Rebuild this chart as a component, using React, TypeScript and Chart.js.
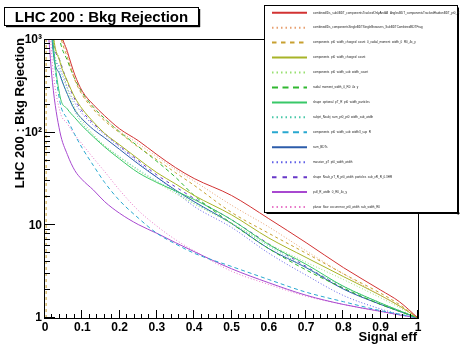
import React, { useEffect, useRef } from "react";
import { Chart, registerables } from "chart.js";

Chart.register(...registerables);

// ---------- data ----------
const effGrid = [0.005, 0.02, 0.04, 0.06, 0.08, 0.1, 0.13, 0.16, 0.2, 0.25, 0.3, 0.35, 0.4, 0.5, 0.6, 0.7, 0.8, 0.9, 0.95, 1.0];

const rejCombinedSub0 = [100000, 8000, 1400, 750, 420, 280, 200, 152, 110, 82, 58, 42, 32, 21, 11.8, 6.5, 3.5, 2.0, 1.5, 1];
const rejCombinedSingle = [100000, 6000, 1300, 700, 380, 260, 185, 140, 104, 76, 55, 40, 30, 16.5, 9.6, 5.3, 3.0, 1.75, 1.35, 1];
const rejCompChargedRadial = [100000, 5000, 1200, 650, 370, 255, 178, 134, 100, 70, 51, 37, 27, 13.8, 8.2, 5.0, 3.0, 1.85, 1.4, 1];
const rejCompCharged = [30000, 1500, 580, 360, 240, 180, 130, 98, 74, 52, 37, 28, 21, 13, 7.3, 4.5, 2.8, 1.75, 1.35, 1];
const rejCompSubWidth = [30000, 1300, 620, 300, 185, 135, 95, 72, 54, 39, 29, 22, 17, 10.5, 6.3, 4.0, 2.6, 1.65, 1.3, 1];
const rejRadialMoment = [100000, 4000, 1000, 600, 380, 270, 188, 142, 102, 71, 49, 33, 21, 10.5, 5.6, 3.3, 2.1, 1.4, 1.18, 1];
const rejShapeOptional = [20000, 1200, 250, 180, 145, 118, 90, 70, 52, 37, 29, 23.5, 19, 11.5, 6.2, 3.8, 2.2, 1.45, 1.2, 1];
const rejSubjetNsubj = [20000, 1100, 450, 260, 170, 125, 92, 72, 55, 40, 30, 23, 17.5, 10.5, 6.0, 3.5, 2.2, 1.45, 1.2, 1];
const rejCompSupR = [10000, 1000, 215, 140, 95, 68, 44, 29, 18.5, 12, 8.2, 6.3, 5.0, 3.6, 2.6, 1.9, 1.5, 1.2, 1.1, 1];
const rejSumBDT = [20000, 900, 420, 260, 175, 140, 108, 88, 66, 46, 33, 24, 18, 10.5, 5.6, 3.5, 2.05, 1.4, 1.18, 1];
const rejMassive = [20000, 1000, 500, 300, 210, 160, 120, 95, 70, 48, 33, 23, 16, 9.5, 5.0, 2.9, 1.75, 1.25, 1.1, 1];
const rejShapeNsub = [20000, 1200, 600, 350, 230, 170, 125, 98, 72, 50, 35, 26, 19.5, 11.5, 6.3, 3.6, 2.1, 1.4, 1.2, 1];
const rejPull = [2000, 350, 102, 58, 39, 31, 24, 18, 13.5, 10.2, 8.2, 6.5, 5.2, 3.4, 2.4, 1.76, 1.4, 1.18, 1.08, 1];
const rejPlanarFlow = [5000, 550, 170, 125, 95, 75, 53, 38, 24, 14.5, 9.8, 7.0, 5.3, 3.2, 2.3, 1.72, 1.4, 1.17, 1.08, 1];

// vertical edge of the third curve at very low efficiency
const edgeEff = [0.003, 0.003];
const edgeRej = [1, 1000];

const seriesNames = [
  "combinedIDs_sub0BDT_componentsTrackedOnlyAndAll_AnglesBDT_componentsTrackedHadronBDT_pt0_R_BDTSub",
  "combinedIDs_componentsSingleBDTSingleBrowsers_SubBDTCombinedBDTFrag",
  "components_pt0_width_charged_count_0_radial_moment_width_0_R0_4x_y",
  "components_pt0_width_charged_count",
  "components_pt0_width_sub_width_count",
  "radial_moment_width_0_R0_4x_y",
  "shape_optional_pT_R_pt0_width_particles",
  "subjet_Nsubj_sum_pt0_pt0_width_sub_width",
  "components_pt0_width_sub_width3_sup_R",
  "sum_BDTs",
  "massive_pT_pt0_width_width",
  "shape_Nsub_pT_R_pt0_width_particles_sub_xR_R_0.3HR",
  "pull_R_width_0_R0_4x_y",
  "planar_flow_occurrence_pt0_width_sub_width_R0",
];

const seriesRej = [
  rejCombinedSub0, rejCombinedSingle, rejCompChargedRadial, rejCompCharged, rejCompSubWidth,
  rejRadialMoment, rejShapeOptional, rejSubjetNsubj, rejCompSupR, rejSumBDT,
  rejMassive, rejShapeNsub, rejPull, rejPlanarFlow,
];

const xTickValues = [0, 0.1, 0.2, 0.3, 0.4, 0.5, 0.6, 0.7, 0.8, 0.9, 1];
const xTickLabels = ["0", "0.1", "0.2", "0.3", "0.4", "0.5", "0.6", "0.7", "0.8", "0.9", "1"];
const yTickValues = [1, 10, 100, 1000];
const yTickLabels = ["1", "10", "10\u00B2", "10\u00B3"];

const chartTitle = "LHC 200 : Bkg Rejection";
const xTitle = "Signal eff";
const yTitle = "LHC 200 : Bkg Rejection";

// ---------- styles ----------
const seriesColors = [
  "#d23232", "#e8a070", "#c8a030", "#a8b428", "#98e070", "#30b830", "#38c868",
  "#48c8a8", "#28a8d0", "#2c5caa", "#6060e8", "#6838c8", "#a848d0", "#e878c8",
];
const DOT = [1, 2];
const seriesDashes: number[][] = [
  [], DOT, [3, 3], [], DOT, [4, 3], [], DOT, [4, 3], [], DOT, [3, 4], [], DOT,
];

const FONT = '"Liberation Sans", Arial, Helvetica, sans-serif';

const rootDecor = {
  id: "rootDecor",
  afterDraw(chart: any) {
    const { ctx, chartArea: a } = chart;
    const xs = chart.scales.x;
    const ys = chart.scales.y;
    ctx.save();
    ctx.strokeStyle = "#000";
    ctx.fillStyle = "#000";
    ctx.lineWidth = 1;
    ctx.setLineDash([]);
    // frame
    ctx.strokeRect(a.left - 0.5, a.top - 0.5, a.right - a.left + 1, a.bottom - a.top + 1);
    // x ticks (inside)
    ctx.beginPath();
    for (let k = 0; k <= 50; k++) {
      const v = k / 50;
      const px = Math.round(xs.getPixelForValue(v)) - 0.5;
      const len = k % 5 === 0 ? 8 : 4;
      ctx.moveTo(px, a.bottom);
      ctx.lineTo(px, a.bottom - len);
    }
    // y ticks (inside)
    for (let d = 1; d <= 1000; d *= 10) {
      for (let m = 1; m <= 9; m++) {
        const v = d * m;
        if (v > 1000) break;
        const py = Math.round(ys.getPixelForValue(v)) - 0.5;
        const len = m === 1 ? 10 : 5;
        ctx.moveTo(a.left, py);
        ctx.lineTo(a.left + len, py);
      }
    }
    ctx.stroke();

    // axis titles
    ctx.font = `bold 13px ${FONT}`;
    ctx.textAlign = "right";
    ctx.textBaseline = "alphabetic";
    ctx.fillText(xTitle, a.right - 1, 341);
    ctx.save();
    ctx.translate(24, a.top - 2);
    ctx.rotate(-Math.PI / 2);
    ctx.fillText(yTitle, 0, 0);
    ctx.restore();

    // title box
    ctx.fillStyle = "#fff";
    ctx.fillRect(4.5, 7.5, 194, 18);
    ctx.fillStyle = "#000";
    ctx.strokeRect(4.5, 7.5, 194, 18);
    ctx.fillRect(6, 26, 194, 1.2);
    ctx.fillRect(199, 9, 1.2, 18);
    ctx.font = `bold 15px ${FONT}`;
    ctx.textAlign = "center";
    ctx.fillText(chartTitle, 101.5, 21.5);

    // legend box
    const lx = 264.5, ly = 5.5, lw = 193, lh = 207;
    ctx.fillStyle = "#fff";
    ctx.fillRect(lx, ly, lw, lh);
    ctx.fillStyle = "#000";
    ctx.strokeRect(lx, ly, lw, lh);
    ctx.fillRect(lx + 2, ly + lh, lw, 1.5);
    ctx.fillRect(lx + lw, ly + 2, 1.5, lh);
    ctx.font = `3px ${FONT}`;
    ctx.textAlign = "left";
    ctx.textBaseline = "middle";
    for (let i = 0; i < seriesNames.length; i++) {
      const yy = 12.7 + i * 14.95;
      ctx.strokeStyle = seriesColors[i];
      ctx.lineWidth = 2;
      ctx.setLineDash(seriesDashes[i].map((d) => d * 1.5));
      ctx.beginPath();
      ctx.moveTo(272, yy);
      ctx.lineTo(307, yy);
      ctx.stroke();
      ctx.fillStyle = "#222";
      ctx.fillText(seriesNames[i], 313, yy);
    }
    ctx.restore();
  },
};

export default function App() {
  const ref = useRef<HTMLCanvasElement>(null);
  useEffect(() => {
    const canvas = ref.current;
    if (!canvas) return;
    const datasets: any[] = seriesRej.map((vals, i) => ({
      label: seriesNames[i],
      data: effGrid.map((e, j) => ({ x: e, y: vals[j] })),
      borderColor: seriesColors[i],
      borderDash: seriesDashes[i],
      borderWidth: 1,
      pointRadius: 0,
      fill: false,
      cubicInterpolationMode: "monotone",
    }));
    datasets.push({
      label: "edge",
      data: edgeEff.map((e, j) => ({ x: e, y: edgeRej[j] })),
      borderColor: seriesColors[2],
      borderDash: seriesDashes[2],
      borderWidth: 1,
      pointRadius: 0,
      fill: false,
    });
    const tickFont = { family: FONT, size: 12, weight: "bold" as const };
    const chart = new Chart(canvas, {
      type: "line",
      data: { datasets },
      options: {
        animation: false,
        responsive: false,
        events: [],
        layout: { padding: { left: 0, top: 40, right: 42, bottom: 0 } },
        plugins: {
          legend: { display: false },
          title: { display: false },
          tooltip: { enabled: false },
        },
        scales: {
          x: {
            type: "linear",
            min: 0,
            max: 1,
            grid: { display: false, drawTicks: false },
            border: { display: false },
            ticks: {
              font: tickFont,
              color: "#000",
              padding: 2,
              maxRotation: 0,
              autoSkip: false,
              callback: (_v: any, i: number) => xTickLabels[i],
            },
            afterBuildTicks: (s: any) => {
              s.ticks = xTickValues.map((v) => ({ value: v }));
            },
            afterFit: (s: any) => {
              s.height = 28;
            },
          },
          y: {
            type: "logarithmic",
            min: 1,
            max: 1000,
            grid: { display: false, drawTicks: false },
            border: { display: false },
            ticks: {
              font: tickFont,
              color: "#000",
              padding: 3,
              autoSkip: false,
              callback: (_v: any, i: number) => yTickLabels[i],
            },
            afterBuildTicks: (s: any) => {
              s.ticks = yTickValues.map((v) => ({ value: v }));
            },
            afterFit: (s: any) => {
              s.width = 45;
            },
          },
        },
      },
      plugins: [rootDecor],
    });
    return () => chart.destroy();
  }, []);
  return (
    <canvas
      ref={ref}
      width={460}
      height={346}
      style={{ display: "block", position: "fixed", left: 0, top: 0, background: "#fff" }}
    />
  );
}
